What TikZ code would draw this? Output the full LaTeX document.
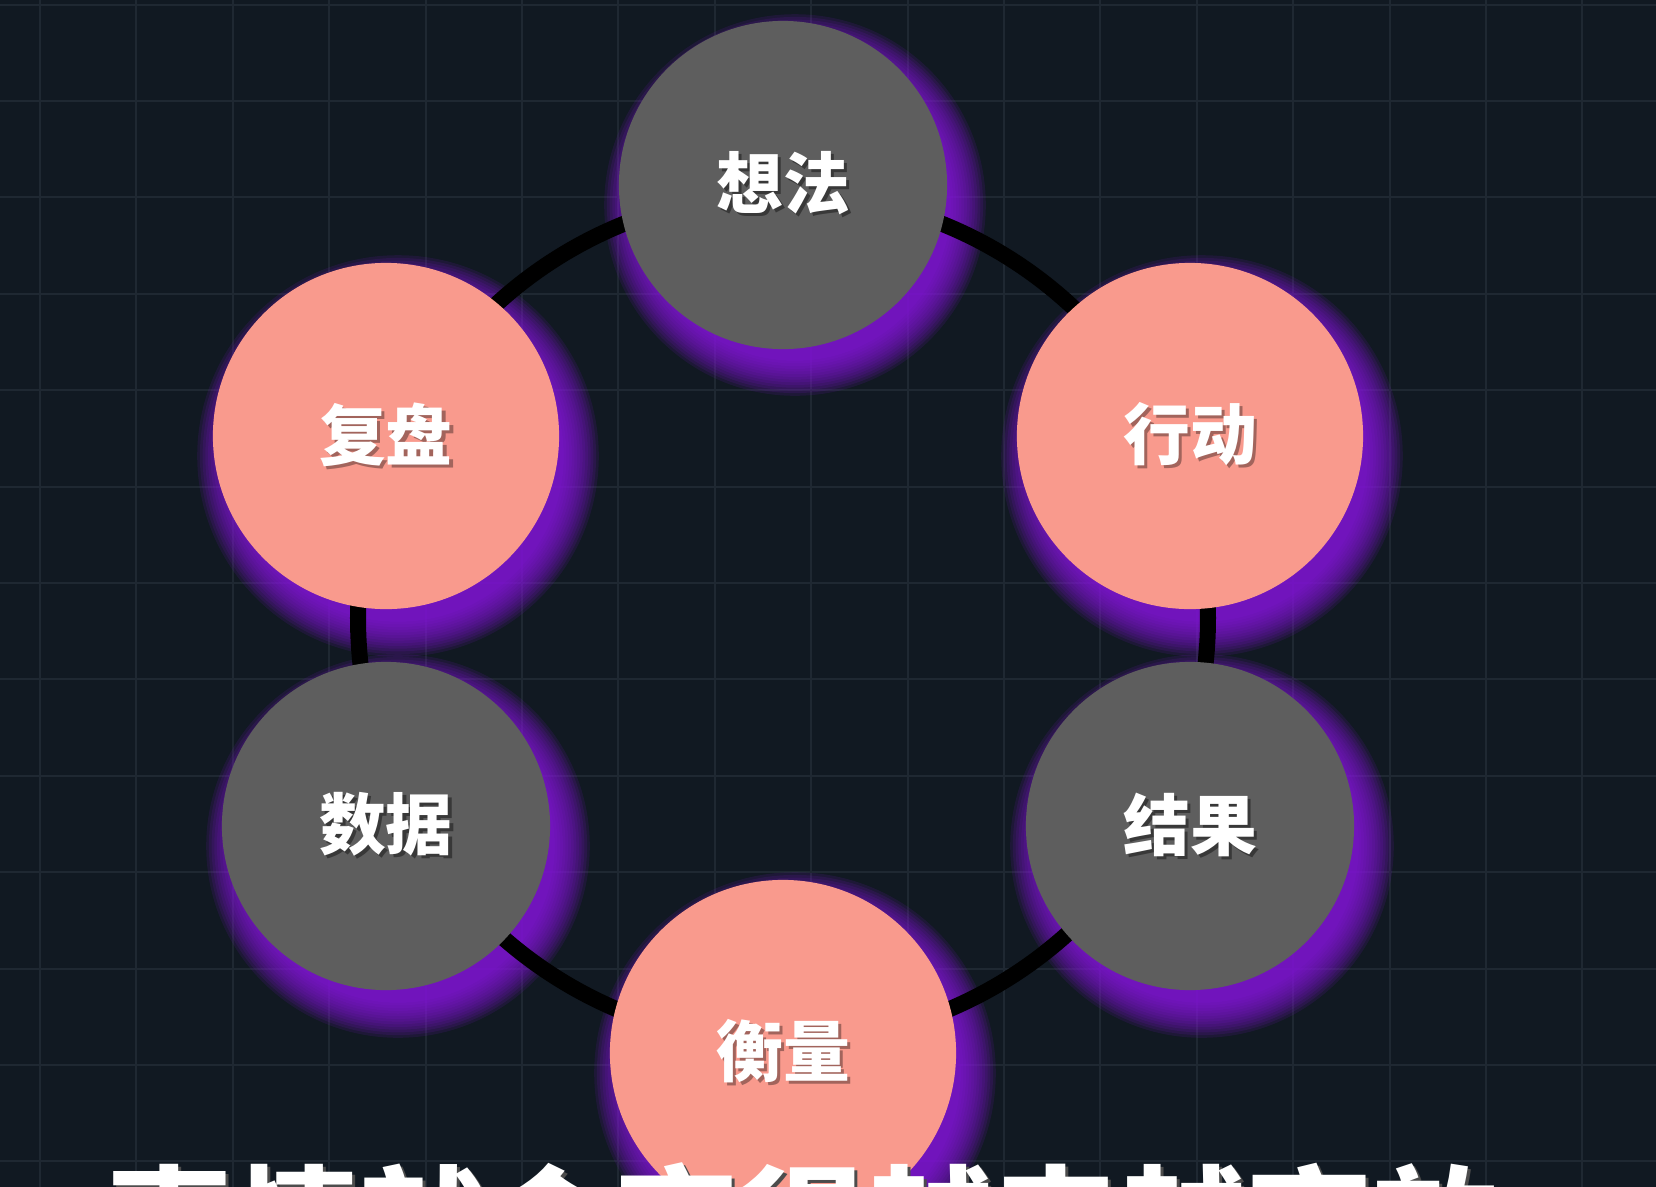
\documentclass[tikz,border=0pt]{standalone}
\usepackage{fontspec}
\newfontfamily\cjk{Noto Sans CJK SC}
\usetikzlibrary{positioning}

\definecolor{night}{HTML}{111922}
\definecolor{gridgrey}{HTML}{1F2832}
\definecolor{slate}{HTML}{5E5E5E}
\definecolor{peach}{HTML}{F99A8D}
\definecolor{violet}{HTML}{8C14E6}

\pgfdeclarelayer{grid}
\pgfdeclarelayer{glow}
\pgfdeclarelayer{ring}
\pgfsetlayers{grid,glow,ring,main}

% white text with a small drop shadow
\newcommand{\dropped}[2]{\makebox[0pt][l]{\hspace{0.03cm}\raisebox{-0.03cm}{\color{#1}#2}}#2}

\tikzset{stage/.style=
   {circle,
    inner sep=0pt,
    text=white,
    font=\cjk\bfseries\fontsize{19pt}{19pt}\selectfont}}
\tikzset{thought/.style =
   {stage,
    fill=slate,
    minimum size=3.28cm}}
\tikzset{deed/.style =
   {stage,
    fill=peach,
    minimum size=3.46cm}}
\tikzset{gridline/.style = {draw=gridgrey, line width=0.02cm}}
\tikzset{ring/.style = {draw=black, line width=0.16cm}}
\tikzset{headline/.style =
   {anchor=base west,
    inner sep=0pt,
    text=white,
    font=\cjk\bfseries\fontsize{36pt}{36pt}\selectfont}}

\begin{document}
\begin{tikzpicture}[x=0.01cm, y=-0.01cm]

    \useasboundingbox (0,0) rectangle (1656,1187);

    \begin{pgfonlayer}{grid}
        \fill[night] (0,0) rectangle (1656,1187);
        \foreach \i in {0,...,17}
            \draw[gridline] ({40+96.4*\i},0) -- ++(0,1187);
        \foreach \j in {0,...,12}
            \draw[gridline] (0,{4.5+96.4*\j}) -- ++(1656,0);
    \end{pgfonlayer}

    \coordinate (hub) at (783,618);

    \node [thought] (idea)    at (783,185)  {\dropped{slate!60!black}{想法}};
    \node [deed]    (action)  at (1190,436) {\dropped{peach!65!black}{行动}};
    \node [thought] (result)  at (1190,826) {\dropped{slate!60!black}{结果}};
    \node [deed]    (measure) at (783,1053) {\dropped{peach!65!black}{衡量}};
    \node [thought] (data)    at (386,826)  {\dropped{slate!60!black}{数据}};
    \node [deed]    (review)  at (386,436)  {\dropped{peach!65!black}{复盘}};

    \begin{pgfonlayer}{glow}
        \foreach \n/\r in {idea/163, action/173, result/164,
                           measure/173, data/164, review/173}
            \foreach \k in {1,...,14}
                \fill[violet, opacity=0.11]
                    ([shift={(12,20)}]\n.center) circle[radius={\r-10+2.7*\k}];
    \end{pgfonlayer}

    \begin{pgfonlayer}{ring}
        \draw[ring] (hub) circle[radius=425];
    \end{pgfonlayer}

    \node [headline] (caption) at (106,1272)
        {\dropped{black!70}{事情就会变得越来越高效}};

\end{tikzpicture}
\end{document}
